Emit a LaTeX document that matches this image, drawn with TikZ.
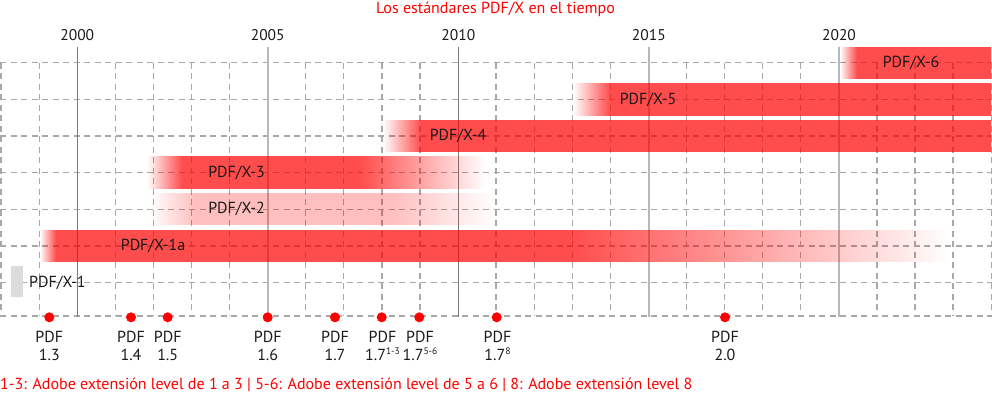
\documentclass[tikz,border=0pt]{standalone}
\usepackage{fontspec}
\setmainfont{PT Sans}
\usetikzlibrary{fadings}
\definecolor{gridgray}{HTML}{A8A8A8}
\definecolor{darkyear}{HTML}{7A7A7A}
\definecolor{lightyear}{HTML}{B8B8B8}
\definecolor{barred}{HTML}{FF0000}
\definecolor{oldgray}{HTML}{DCDCDC}
\definecolor{txt}{HTML}{1A1A1A}
\newcommand{\smallsup}[1]{\raisebox{0.42em}{\fontsize{9.5}{10}\selectfont #1}}
\begin{document}
\begin{tikzpicture}[x=1pt,y=-1pt,
  gridline/.style={draw=gridgray, line width=1.3pt, dash pattern=on 6pt off 4.5pt},
  yearmajor/.style={draw=darkyear, line width=1pt},
  yearminor/.style={draw=lightyear, line width=1.8pt},
  barsolid/.style={fill=barred, fill opacity=#1},
  barsolid/.default=0.7,
  fadein/.style={fill=barred, fill opacity=#1, path fading=west},
  fadein/.default=0.7,
  fadeout/.style={fill=barred, fill opacity=#1, path fading=east},
  fadeout/.default=0.7,
  barlabel/.style={font=\fontsize{16}{18}\selectfont, text=txt, inner sep=0pt},
  yearlabel/.style={font=\fontsize{15.5}{18}\selectfont, text=txt, inner sep=0pt},
  pdfdot/.style={circle, fill=barred, minimum size=10pt, inner sep=0pt},
  pdflabel/.style={font=\fontsize{16}{18.3}\selectfont, text=txt, align=center, inner sep=0pt},
  redtext/.style={font=\fontsize{16}{18}\selectfont, text=barred, inner sep=0pt}
]
\useasboundingbox (0,0) rectangle (992,394);

% ---------------- grid ----------------
\foreach \yr in {1998,...,2024}{
  \pgfmathsetmacro{\xx}{1.1+(\yr-1998)*38.08}
  \pgfmathtruncatemacro{\md}{mod(\yr,5)}
  \ifnum\md=0\relax\else
    \draw[gridline] (\xx,62.7) -- (\xx,316);
  \fi
}
\foreach \yy in {62.7,99.3,136,172.7,209.3,246,282.7,316}{
  \draw[gridline] (0,\yy) -- (992,\yy);
}
% solid year lines
\draw[yearmajor] (77.3,47) -- (77.3,317);
\draw[yearminor] (267.7,47) -- (267.7,317);
\draw[yearmajor] (458.3,47) -- (458.3,317);
\draw[lightyear, line width=1.4pt] (648.8,47) -- (648.8,317);
\draw[yearminor] (839,47) -- (839,317);

% ---------------- bars ----------------
% PDF/X-6
\fill[fadein] (840,46.7) rectangle (857,79);
\fill[barsolid] (857,46.7) rectangle (991,79);
% PDF/X-5
\fill[fadein] (573,83.3) rectangle (610,115.7);
\fill[barsolid] (610,83.3) rectangle (991,115.7);
% PDF/X-4
\fill[fadein] (383,120) rectangle (421,152);
\fill[barsolid] (421,120) rectangle (991,152);
% PDF/X-3
\fill[fadein] (147,156) rectangle (182,189);
\fill[barsolid] (182,156) rectangle (360,189);
\fill[fadeout] (360,156) rectangle (485,189);
% PDF/X-2
\fill[fadein=0.25] (150,193) rectangle (195,225);
\fill[barsolid=0.25] (195,193) rectangle (392,225);
\fill[fadeout=0.25] (392,193) rectangle (495,225);
% PDF/X-1a
\fill[fadein] (40,229.5) rectangle (56,261.7);
\fill[barsolid] (56,229.5) rectangle (570,261.7);
\fill[fadeout] (570,229.5) rectangle (950,261.7);
% PDF/X-1
\fill[oldgray] (11,266) rectangle (23,296.7);

% ---------------- labels ----------------
\node[redtext] (title) at (495.5,9) {Los estándares PDF/X en el tiempo};
\node[yearlabel] (y2000) at (77.3,35) {2000};
\node[yearlabel] (y2005) at (267.7,35) {2005};
\node[yearlabel] (y2010) at (458.3,35) {2010};
\node[yearlabel] (y2015) at (648.8,35) {2015};
\node[yearlabel] (y2020) at (839,35) {2020};

\node[barlabel] (lx6) at (911,63) {PDF/X-6};
\node[barlabel] (lx5) at (648,99.5) {PDF/X-5};
\node[barlabel] (lx4) at (458,136) {PDF/X-4};
\node[barlabel] (lx3) at (236.5,172.5) {PDF/X-3};
\node[barlabel] (lx2) at (236.5,209) {PDF/X-2};
\node[barlabel] (lx1a) at (153,246) {PDF/X-1a};
\node[barlabel, anchor=west] (lx1) at (29,282.5) {PDF/X-1};

% ---------------- PDF versions ----------------
\node[pdfdot] (d13) at (49.3,317.3) {};
\node[pdfdot] (d14) at (131,317.3) {};
\node[pdfdot] (d15) at (167.7,317.3) {};
\node[pdfdot] (d16) at (267.7,317.3) {};
\node[pdfdot] (d17) at (335,317.3) {};
\node[pdfdot] (d17a) at (381.7,317.3) {};
\node[pdfdot] (d17b) at (419.3,317.3) {};
\node[pdfdot] (d17c) at (496.7,317.3) {};
\node[pdfdot] (d20) at (725,317.3) {};

\node[pdflabel] (p13) at (49.3,346) {PDF\\1.3};
\node[pdflabel] (p14) at (131,346) {PDF\\1.4};
\node[pdflabel] (p15) at (167.7,346) {PDF\\1.5};
\node[pdflabel] (p16) at (267.7,346) {PDF\\1.6};
\node[pdflabel] (p17) at (335,346) {PDF\\1.7};
\node[pdflabel] (p17a) at (382.5,346) {PDF\\1.7\smallsup{1-3}};
\node[pdflabel] (p17b) at (420,346) {PDF\\1.7\smallsup{5-6}};
\node[pdflabel] (p17c) at (497.5,346) {PDF\\1.7\smallsup{8}};
\node[pdflabel] (p20) at (725,346) {PDF\\2.0};

\node[redtext, anchor=west] (foot) at (0,385) {1-3: Adobe extensión level de 1 a 3 | 5-6: Adobe extensión level de 5 a 6 | 8: Adobe extensión level 8};
\end{tikzpicture}
\end{document}
